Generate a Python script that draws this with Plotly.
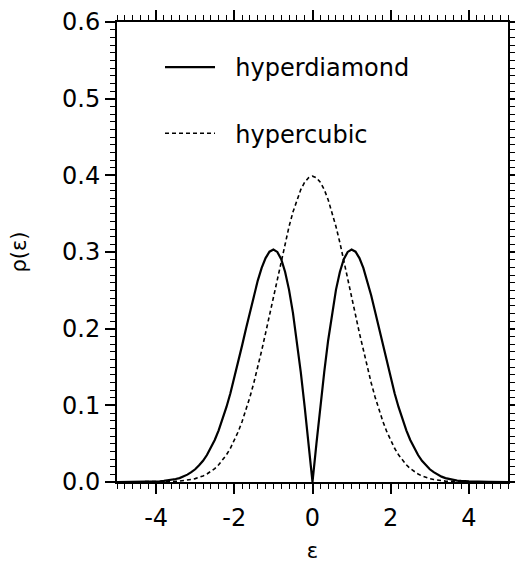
import plotly.graph_objects as go

eps = [-5.0, -4.5,
       -4.0, -3.9, -3.8, -3.7, -3.6, -3.5, -3.4, -3.3, -3.2, -3.1,
       -3.0, -2.9, -2.8, -2.7, -2.6, -2.5, -2.4, -2.3, -2.2, -2.1,
       -2.0, -1.9, -1.8, -1.7, -1.6, -1.5, -1.4, -1.3, -1.2, -1.1,
       -1.0, -0.9, -0.8, -0.7, -0.6, -0.5, -0.4, -0.3, -0.2, -0.1,
       0.0,
       0.1, 0.2, 0.3, 0.4, 0.5, 0.6, 0.7, 0.8, 0.9, 1.0,
       1.1, 1.2, 1.3, 1.4, 1.5, 1.6, 1.7, 1.8, 1.9, 2.0,
       2.1, 2.2, 2.3, 2.4, 2.5, 2.6, 2.7, 2.8, 2.9, 3.0,
       3.1, 3.2, 3.3, 3.4, 3.5, 3.6, 3.7, 3.8, 3.9, 4.0,
       4.5, 5.0]

hyperdiamond = [0.0000, 0.0001,
                0.0007, 0.0010, 0.0014, 0.0019, 0.0027, 0.0039, 0.0051, 0.0070, 0.0096, 0.0128,
                0.0166, 0.0218, 0.0277, 0.0352, 0.0443, 0.0548, 0.0674, 0.0816, 0.0979, 0.1158,
                0.1354, 0.1562, 0.1782, 0.2003, 0.2224, 0.2435, 0.2627, 0.2793, 0.2921, 0.3004,
                0.3033, 0.3001, 0.2905, 0.2740, 0.2506, 0.2206, 0.1846, 0.1434, 0.0980, 0.0498,
                0.0000,
                0.0498, 0.0980, 0.1434, 0.1846, 0.2206, 0.2506, 0.2740, 0.2905, 0.3001, 0.3033,
                0.3004, 0.2921, 0.2793, 0.2627, 0.2435, 0.2224, 0.2003, 0.1782, 0.1562, 0.1354,
                0.1158, 0.0979, 0.0816, 0.0674, 0.0548, 0.0443, 0.0352, 0.0277, 0.0218, 0.0166,
                0.0128, 0.0096, 0.0070, 0.0051, 0.0039, 0.0027, 0.0019, 0.0014, 0.0010, 0.0007,
                0.0001, 0.0000]

hypercubic = [0.0000, 0.0000,
              0.0001, 0.0002, 0.0003, 0.0004, 0.0006, 0.0009, 0.0012, 0.0017, 0.0024, 0.0033,
              0.0044, 0.0060, 0.0079, 0.0104, 0.0136, 0.0175, 0.0224, 0.0283, 0.0355, 0.0440,
              0.0540, 0.0656, 0.0790, 0.0940, 0.1109, 0.1295, 0.1497, 0.1714, 0.1942, 0.2179,
              0.2420, 0.2661, 0.2897, 0.3123, 0.3332, 0.3521, 0.3683, 0.3814, 0.3910, 0.3970,
              0.3989,
              0.3970, 0.3910, 0.3814, 0.3683, 0.3521, 0.3332, 0.3123, 0.2897, 0.2661, 0.2420,
              0.2179, 0.1942, 0.1714, 0.1497, 0.1295, 0.1109, 0.0940, 0.0790, 0.0656, 0.0540,
              0.0440, 0.0355, 0.0283, 0.0224, 0.0175, 0.0136, 0.0104, 0.0079, 0.0060, 0.0044,
              0.0033, 0.0024, 0.0017, 0.0012, 0.0009, 0.0006, 0.0004, 0.0003, 0.0002, 0.0001,
              0.0000, 0.0000]

x_ticks = [-4, -2, 0, 2, 4]
y_ticks = [0.0, 0.1, 0.2, 0.3, 0.4, 0.5, 0.6]
y_tick_text = ["0.0", "0.1", "0.2", "0.3", "0.4", "0.5", "0.6"]

FONT = "DejaVu Sans, sans-serif"
PAD = "\u00a0\u00a0"

fig = go.Figure()
fig.add_trace(go.Scatter(x=eps, y=hyperdiamond, mode="lines", name=PAD + "hyperdiamond",
                         legendgroup="a",
                         line=dict(color="black", width=2.2)))
fig.add_trace(go.Scatter(x=eps, y=hypercubic, mode="lines", name=PAD + "hypercubic",
                         legendgroup="b",
                         line=dict(color="black", width=1.6, dash="4px,3px")))

axis_common = dict(
    showline=True, linecolor="black", linewidth=2, mirror="ticks",
    ticks="outside", tickcolor="black", tickwidth=1.5, ticklen=10,
    showgrid=False, zeroline=False, automargin=False,
    tickfont=dict(family=FONT, size=24, color="black"),
)

fig.update_xaxes(range=[-5, 5], tickvals=x_ticks, ticktext=[str(v) for v in x_ticks],
                 minor=dict(dtick=0.2, ticks="outside", ticklen=5, tickwidth=1.2, tickcolor="black", showgrid=False),
                 ticklabelstandoff=3,
                 title=dict(text="ε", font=dict(family=FONT, size=21, color="black"), standoff=24),
                 **axis_common)
fig.update_yaxes(range=[0, 0.6], tickvals=y_ticks, ticktext=y_tick_text,
                 minor=dict(dtick=0.01, ticks="outside", ticklen=5, tickwidth=1.2, tickcolor="black", showgrid=False),
                 title=dict(text="ρ(ε)", font=dict(family=FONT, size=21, color="black"), standoff=30),
                 **axis_common)

fig.update_layout(
    width=515, height=563,
    margin=dict(l=117, r=7, t=22, b=81),
    paper_bgcolor="white", plot_bgcolor="white",
    showlegend=True,
    legend=dict(x=0.11, y=0.95, xanchor="left", yanchor="top",
                bgcolor="rgba(0,0,0,0)", borderwidth=0,
                font=dict(family=FONT, size=24, color="black"),
                itemwidth=50, tracegroupgap=32),
)

fig.write_html("out.html")
